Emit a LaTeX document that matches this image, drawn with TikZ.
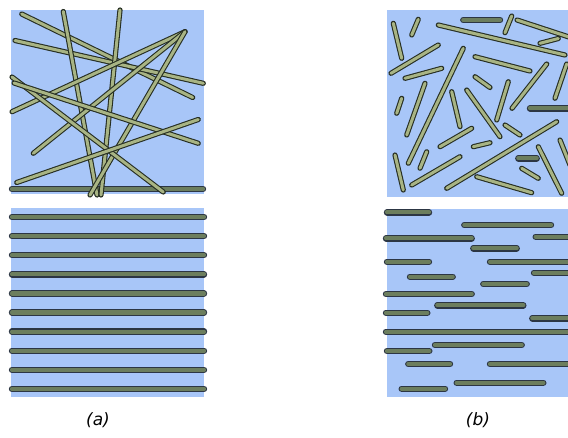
\documentclass[tikz,border=0pt]{standalone}
\usepackage{fontspec}
\setsansfont{DejaVu Sans}
\usetikzlibrary{arrows.meta,calc}
\definecolor{bgblue}{RGB}{168,198,248}
\definecolor{fibreedge}{RGB}{38,46,34}
\definecolor{fibrefill}{RGB}{168,180,132}
\definecolor{flatfill}{RGB}{108,126,94}
\definecolor{flatedge}{RGB}{44,54,68}

\begin{document}
\begin{tikzpicture}[x=1pt,y=-1pt,
    fibre/.style={draw=fibreedge,double=fibrefill,double distance=3pt,line width=1.1pt,line cap=round},
    flat/.style={draw=flatedge,double=flatfill,double distance=4.2pt,line width=1.1pt,line cap=round},
    panellabel/.style={font=\sffamily\itshape\fontsize{17}{19}\selectfont}]
    \path (0,0) rectangle (568,437);
    \fill[bgblue] (11,10) rectangle (204,194);
    \fill[bgblue] (11,208) rectangle (204,397);
    \fill[bgblue] (387,10) rectangle (568,197);
    \fill[bgblue] (387,209) rectangle (568,397);

    \draw[flat] (12,189) --++ (191,0);
    \foreach \xa/\ya/\xb/\yb in {21.7/14/192.7/97.5, 15/40.5/203.3/83.3, 63.3/11.5/97/195,
      120/10/101/195, 185/31.7/12/111.7, 185/31.7/33.3/153.3, 185/31.7/90/195,
      12/77/163.3/192, 14/83/198.3/143.3, 16.7/182.5/198.3/119.5}{
      \draw[fibre] (\xa,\ya) -- (\xb,\yb);
    }

    \foreach \k in {0,...,9}{
      \draw[flat] (12,217+19.1*\k) --++ (192,0);
    }

    \begin{scope}
      \clip (380,5) rectangle (568,197);
      \foreach \xa/\ya/\xb/\yb in {463.3/20/500/20, 530/108.3/575/108.3, 518.3/158.3/536.7/158.3}{
        \draw[flat] (\xa,\ya) -- (\xb,\yb);
      }
      \foreach \xa/\ya/\xb/\yb in {393.3/23.3/401.7/58.3, 418.3/19.3/411.7/35, 511.7/16/505/32.7,
        517/20/572/38, 438.3/25/565/55, 540/43.3/558.3/38.5, 391/73.3/438.3/45,
        405/78.3/441.7/68.3, 463.3/48.3/408.3/163.3, 475/56.7/530/71, 546.7/64/512/108.3,
        566.7/64/555/98.3, 475/76.7/490/87.5, 425/83.3/406.7/135, 401.7/98.3/396.7/113.3,
        451.7/91.7/460/126.7, 466.7/90/500/136.7, 508.3/81.7/496.7/120, 505/125/520/135,
        471.7/128.3/440/146.7, 556.7/121.7/446.7/188.3, 473.3/146.7/490/142.7,
        426.7/151.7/420/168.3, 395/155/403.3/190, 460/156.7/411.7/185, 521.7/168.3/538.3/178.3,
        538.3/146.7/561.7/193.3, 476.7/176.7/531.7/192.7, 560/140/570/165}{
        \draw[fibre] (\xa,\ya) -- (\xb,\yb);
      }
    \end{scope}

    \begin{scope}
      \clip (380,205) rectangle (568,400);
      \foreach \xa/\xb/\y in {387/429/212.3, 464.3/551/225, 386/471.7/238.3, 535.7/575/236.7,
        473.3/516.7/248.3, 387/429/261.7, 490/575/261.7, 534/575/272.7, 410/452.7/276.7,
        483.3/526.7/284, 386/471.7/294, 437.3/523.3/305.3, 386/427.3/312.7, 532.3/575/318.3,
        386/575/331.7, 435/521.7/345, 387/429.3/351, 408.3/450/364, 490/575/364,
        456.7/543.3/382.7, 401.7/445/388.7}{
        \draw[flat] (\xa,\y) -- (\xb,\y);
      }
    \end{scope}

    \node[panellabel] (laba) at (98,420) {(a)};
    \node[panellabel] (labb) at (478,420) {(b)};
  \end{tikzpicture}
\end{document}
